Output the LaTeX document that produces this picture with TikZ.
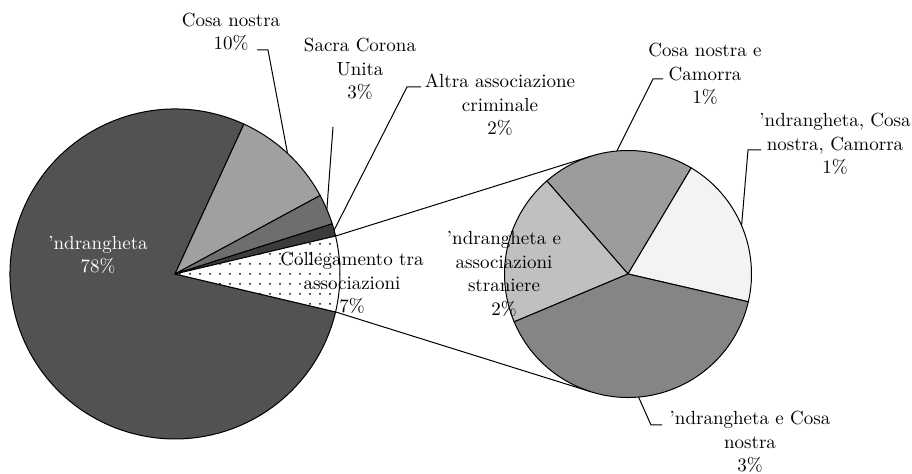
\documentclass[tikz,border=0pt]{standalone}
\usetikzlibrary{calc,patterns.meta}
\definecolor{ndrgray}{HTML}{525252}
\definecolor{cosagray}{HTML}{A0A0A0}
\definecolor{scugray}{HTML}{6E6E6E}
\definecolor{altragray}{HTML}{3C3C3C}
\definecolor{cncgray}{HTML}{9C9C9C}
\definecolor{ncngray}{HTML}{F2F3F2}
\definecolor{ncgray}{HTML}{858585}
\definecolor{nasgray}{HTML}{C0C0C0}
\begin{document}
\begin{tikzpicture}[x=0.5pt,y=0.5pt,
  slice/.style={draw=black, line width=0.5pt, line join=round},
  leader/.style={draw=black, line width=0.5pt},
  lbl/.style={align=center, font=\fontsize{9.5}{11.8}\selectfont, inner sep=0pt}]
\useasboundingbox (0,0) rectangle (912,474);
\coordinate (M) at (175,200);
\coordinate (S) at (628,200);

% main pie
\foreach \a/\b/\c in {65.3/346.7/ndrgray, 28.4/65.3/cosagray,
                       17.7/28.4/scugray, 13.3/17.7/altragray}
  \filldraw[slice, fill=\c] (M) -- ++(\a:165) arc[start angle=\a, end angle=\b, radius=165] -- cycle;
\draw[slice, preaction={fill=white}, pattern={Dots[distance=5pt, radius=0.5pt]}]
  (M) -- ++(-13.3:165) arc[start angle=-13.3, end angle=13.3, radius=165] -- cycle;

% second pie
\foreach \a/\b/\c in {59.2/131.1/cncgray, -13/59.2/ncngray,
                       131.1/202.8/nasgray, 202.8/347/ncgray}
  \filldraw[slice, fill=\c] (S) -- ++(\a:123.5) arc[start angle=\a, end angle=\b, radius=123.5] -- cycle;

% joining lines
\coordinate (m-top) at ($(M)+(13.3:165)$);
\coordinate (m-bot) at ($(M)+(-13.3:165)$);
\coordinate (s-top) at ($(S)+(107.4:123.5)$);
\coordinate (s-bot) at ($(S)+(252.6:123.5)$);
\draw[leader] (m-top) -- (s-top);
\draw[leader] (m-bot) -- (s-bot);

% labels
\node[lbl, text=white] (ndr) at (98,219) {'ndrangheta\\78\%};
\node[lbl] (cosa) at (231,442) {Cosa nostra\\10\%};
\node[lbl] (scu) at (360,405) {Sacra Corona\\Unita\\3\%};
\node[lbl] (altra) at (500,369) {Altra associazione\\criminale\\2\%};
\node[lbl] (coll) at (352,191) {Collegamento tra\\associazioni\\7\%};
\node[lbl] (cnc) at (705,400) {Cosa nostra e\\Camorra\\1\%};
\node[lbl] (ncn) at (835,330) {'ndrangheta, Cosa\\nostra, Camorra\\1\%};
\node[lbl] (nc) at (750,32) {'ndrangheta e Cosa\\nostra\\3\%};
\node[lbl] (nas) at (504,200) {'ndrangheta e\\associazioni\\straniere\\2\%};

% leader lines
\coordinate (cosa-a) at (257,424);
\coordinate (cosa-b) at (268,424);
\coordinate (cosa-e) at ($(M)+(47:165)$);
\draw[leader] (cosa-a) -- (cosa-b) -- (cosa-e);
\coordinate (scu-a) at (333,347);
\coordinate (scu-e) at ($(M)+(23:165)$);
\draw[leader] (scu-a) -- (scu-e);
\coordinate (altra-a) at (421,387);
\coordinate (altra-b) at (407,387);
\coordinate (altra-e) at ($(M)+(15.4:165)$);
\draw[leader] (altra-a) -- (altra-b) -- (altra-e);
\coordinate (cnc-a) at (663,395);
\coordinate (cnc-b) at (653,395);
\coordinate (cnc-e) at ($(S)+(95.2:123.5)$);
\draw[leader] (cnc-a) -- (cnc-b) -- (cnc-e);
\coordinate (ncn-a) at (761,324);
\coordinate (ncn-b) at (748,324);
\coordinate (ncn-e) at ($(S)+(23.1:123.5)$);
\draw[leader] (ncn-a) -- (ncn-b) -- (ncn-e);
\coordinate (nc-e) at ($(S)+(274.9:123.5)$);
\coordinate (nc-b) at (651,49);
\coordinate (nc-a) at (662,49);
\draw[leader] (nc-e) -- (nc-b) -- (nc-a);
\end{tikzpicture}
\end{document}
